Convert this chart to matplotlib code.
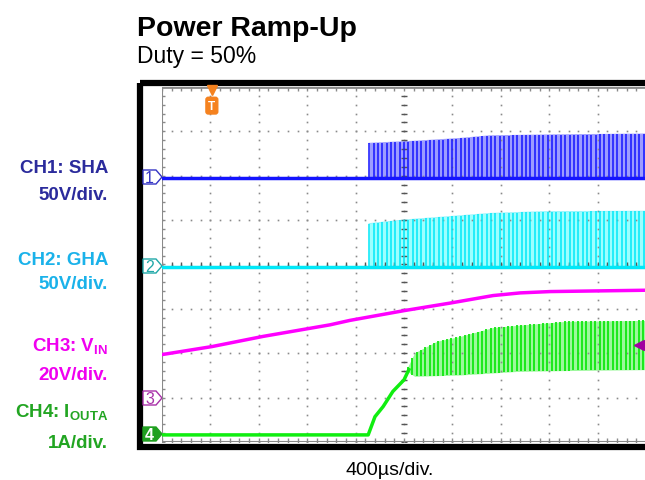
import numpy as np
import matplotlib.pyplot as plt
from matplotlib.patches import Polygon, Rectangle

plt.rcParams['font.family'] = ['Liberation Sans', 'DejaVu Sans']
plt.rcParams['mathtext.fontset'] = 'custom'
plt.rcParams['mathtext.rm'] = 'Liberation Sans:bold'
plt.rcParams['mathtext.bf'] = 'Liberation Sans:bold'

# everything in screen divisions: x 0..10 (400us/div), y -4..4
ch1_base = 1.95
ch1_env_x = [4.28, 5.27, 6.16, 6.78, 8.02, 10.0]
ch1_env_y = [2.73, 2.78, 2.84, 2.90, 2.92, 2.94]

ch2_base = -0.05
ch2_env_x = [4.28, 4.98, 5.95, 6.78, 7.87, 10.0]
ch2_env_y = [0.92, 1.00, 1.08, 1.15, 1.19, 1.20]

pwm_start = 4.28
pwm_period = 0.09

ch3_x = [0, 1.03, 2.09, 3.47, 3.88, 5.0, 5.95, 6.84, 7.4, 8.02, 10.0]
ch3_y = [-2.03, -1.85, -1.62, -1.36, -1.26, -1.04, -0.87, -0.70, -0.64, -0.61, -0.58]

ch4_x = [0, 4.26, 4.40, 4.57, 4.77, 5.0, 5.1]
ch4_y = [-3.84, -3.84, -3.43, -3.2, -2.86, -2.6, -2.37]
ch4_hi_x = [5.08, 5.22, 5.68, 6.16, 6.84, 7.46, 8.37, 10.0]
ch4_hi_y = [-2.30, -1.99, -1.73, -1.62, -1.42, -1.36, -1.28, -1.26]
ch4_lo_x = [5.08, 5.22, 6.16, 7.34, 8.37, 10.0]
ch4_lo_y = [-2.42, -2.52, -2.49, -2.41, -2.39, -2.37]
ripple_start = 5.08

trig_x = 1.03
vin_marker_y = -1.81

W, H = 645, 481
fig = plt.figure(figsize=(W / 100, H / 100), dpi=100)

# pixel overlay for frame, labels and markers
ax0 = fig.add_axes([0, 0, 1, 1])
ax0.set_xlim(0, W)
ax0.set_ylim(H, 0)
ax0.axis('off')

ax0.add_patch(Rectangle((140, 84), 515, 364, fill=False, ec='black', lw=4.5))

ax0.text(137, 36, 'Power Ramp-Up', fontsize=20.5, fontweight='bold', va='baseline')
ax0.text(137, 63, 'Duty = 50%', fontsize=16.5, va='baseline')
ax0.text(390, 475, '400µs/div.', fontsize=14, ha='center', va='baseline')

labels = [
    ('CH1: SHA', 173, '#2b2b9c'), ('50V/div.', 200, '#2b2b9c'),
    ('CH2: GHA', 265, '#1ab2ea'), ('50V/div.', 289, '#1ab2ea'),
    (r'CH3: V$_\mathbf{IN}$', 352, '#f000f0'), ('20V/div.', 380, '#f000f0'),
    (r'CH4: I$_\mathbf{OUTA}$', 418, '#22a522'), ('1A/div.', 448, '#22a522'),
]
for txt, yb, col in labels:
    ax0.text(108, yb, txt, fontsize=13.5, fontweight='bold', color=col,
             ha='right', va='baseline')

# channel markers
markers = [('1', 178, '#3434c4', False), ('2', 267, '#20a8a8', False),
           ('3', 399, '#a830a8', False), ('4', 435, '#20a020', True)]
for num, yc, col, filled in markers:
    pts = [(143, yc - 7), (156, yc - 7), (162, yc), (156, yc + 7), (143, yc + 7)]
    ax0.add_patch(Polygon(pts, closed=True, fc=col if filled else 'white',
                          ec=col, lw=1.0))
    ax0.text(149.5, yc + 0.5, num, fontsize=11.5, color='white' if filled else col,
             ha='center', va='center', fontweight='bold' if filled else 'normal')

# scope screen
x0, x1, y0, y1 = 162, 646, 88, 443
ax = fig.add_axes([x0 / W, 1 - y1 / H, (x1 - x0) / W, (y1 - y0) / H])
ax.set_xlim(0, 10)
ax.set_ylim(-4, 4)
ax.axis('off')
ax.patch.set_alpha(0)

# graticule
gc = '#8a8a8a'
sub_x = np.arange(0, 10.01, 0.2)
sub_y = np.arange(-4, 4.01, 0.2)
for gx in range(1, 10):
    ax.plot(np.full_like(sub_y, gx), sub_y, 's', ms=1.2, color=gc, mew=0)
for gy in range(-3, 4):
    ax.plot(sub_x, np.full_like(sub_x, gy), 's', ms=1.2, color=gc, mew=0)
ax.plot(np.full_like(sub_y, 5), sub_y, '_', ms=5, color='#555555', mew=1)
ax.plot(sub_x, np.zeros_like(sub_x), '|', ms=5, color='#555555', mew=1)
ax.plot(np.zeros_like(sub_y), sub_y, '_', ms=5, color=gc, mew=1)
ax.plot(sub_x, np.full_like(sub_x, -4), '|', ms=6, color=gc, mew=1)
ax.plot(sub_x, np.full_like(sub_x, 4), '|', ms=6, color=gc, mew=1)
ax.plot([0, 0], [-4, 4], color=gc, lw=1.5)
ax.plot([0, 10], [4, 4], color=gc, lw=2)
ax.plot([0, 10], [-4, -4], color=gc, lw=1.5)


def pwm(base, ex, ey, fill_c, line_c):
    xs = np.linspace(pwm_start, 10, 400)
    ax.fill_between(xs, base, np.interp(xs, ex, ey), color=fill_c, lw=0)
    ks = np.arange(pwm_start, 10, pwm_period)
    ax.vlines(ks, base, np.interp(ks, ex, ey), color=line_c, lw=1.1)
    ax.plot(ex, ey, color=line_c, lw=0.8, alpha=0.4)
    ax.plot([0, 10], [base, base], color=line_c, lw=2.5)


pwm(ch1_base, ch1_env_x, ch1_env_y, '#9c9cff', '#1414ff')
pwm(ch2_base, ch2_env_x, ch2_env_y, '#9cffff', '#00e8f8')

ax.plot(ch3_x, ch3_y, color='#ff00ff', lw=2.5)

ax.plot(ch4_x, ch4_y, color='#10ee10', lw=2.5)
xs = np.linspace(ripple_start, 10, 400)
ax.fill_between(xs, np.interp(xs, ch4_lo_x, ch4_lo_y),
                np.interp(xs, ch4_hi_x, ch4_hi_y), color='#9cf89c', lw=0)
ks = np.arange(ripple_start, 10, pwm_period)
ax.vlines(ks, np.interp(ks, ch4_lo_x, ch4_lo_y), np.interp(ks, ch4_hi_x, ch4_hi_y),
          color='#10e810', lw=1.3)

# trigger marker and VIN level arrow
ax.plot(trig_x, 3.93, 'v', ms=7, color='#f5821f', clip_on=False)
ax.text(trig_x, 3.58, 'T', fontsize=8.5, fontweight='bold', color='white',
        ha='center', va='center',
        bbox=dict(boxstyle='round,pad=0.2', fc='#f5821f', ec='#f5821f'))
ax.plot([9.82, 10], [vin_marker_y, vin_marker_y], color='#a000a0', lw=1.2)
ax.plot(9.85, vin_marker_y, '<', ms=7, color='#a000a0', clip_on=False)

fig.savefig('out.png', dpi=100)
